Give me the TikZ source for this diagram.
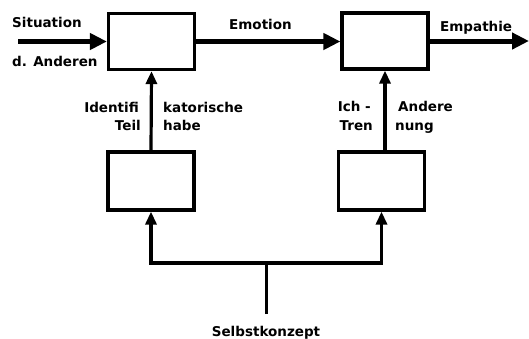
\documentclass[tikz,border=0pt]{standalone}
\usepackage{fontspec}
\setmainfont{DejaVu Sans}
\usetikzlibrary{arrows.meta}
\begin{document}
\begin{tikzpicture}[x=1pt,y=-1pt,
  box/.style={draw,line width=3.2pt,minimum width=86pt,minimum height=56pt,inner sep=0pt},
  lbl/.style={font=\bfseries\fontsize{13.5}{14}\selectfont,inner sep=0pt},
  main/.style={line width=5pt,-{Triangle[length=17pt,width=16pt]}},
  side/.style={line width=3.2pt,-{Triangle[length=13pt,width=11pt]}},
  plain/.style={line width=3pt}]
\useasboundingbox (0,0) rectangle (529,338);
\node[box] (tl) at (151.5,41.5) {};
\node[box] (tr) at (385,41) {};
\node[box,minimum height=58pt] (bl) at (151,181) {};
\node[box,minimum height=58pt] (br) at (381.5,181) {};
\coordinate (in) at (18,41.5);
\coordinate (out) at (529,41);
\coordinate (j) at (266,263);
\coordinate (s) at (266,314);
\draw[main] (in) -- (tl.west);
\draw[main] (tl.east) -- (tr.west |- tl.east);
\draw[main] (tr.east) -- (out);
\draw[side] (bl.north) -- (tl.south);
\draw[side] (br.north -| tr.south) -- (tr.south);
\draw[plain] (s) -- (j);
\draw[side] (j) -| (bl.south);
\draw[side] (j) -| (br.south);
\node[lbl,anchor=base west] (sit) at (12,27) {Situation};
\node[lbl,anchor=base west] (dand) at (12,66) {d. Anderen};
\node[lbl,anchor=base west] (emo) at (229,29) {Emotion};
\node[lbl,anchor=base west] (emp) at (440,31) {Empathie};
\node[lbl,anchor=base east] (id1) at (139,112) {Identifi};
\node[lbl,anchor=base east] (id2) at (141,130) {Teil};
\node[lbl,anchor=base west] (ka1) at (163,112) {katorische};
\node[lbl,anchor=base west] (ka2) at (163,130) {habe};
\node[lbl,anchor=base east] (ich1) at (371,111) {Ich -};
\node[lbl,anchor=base east] (ich2) at (373,130) {Tren};
\node[lbl,anchor=base west] (an1) at (398,111) {Andere};
\node[lbl,anchor=base west] (an2) at (395,130) {nung};
\node[lbl,anchor=base] (sk) at (266,336) {Selbstkonzept};
\end{tikzpicture}
\end{document}
